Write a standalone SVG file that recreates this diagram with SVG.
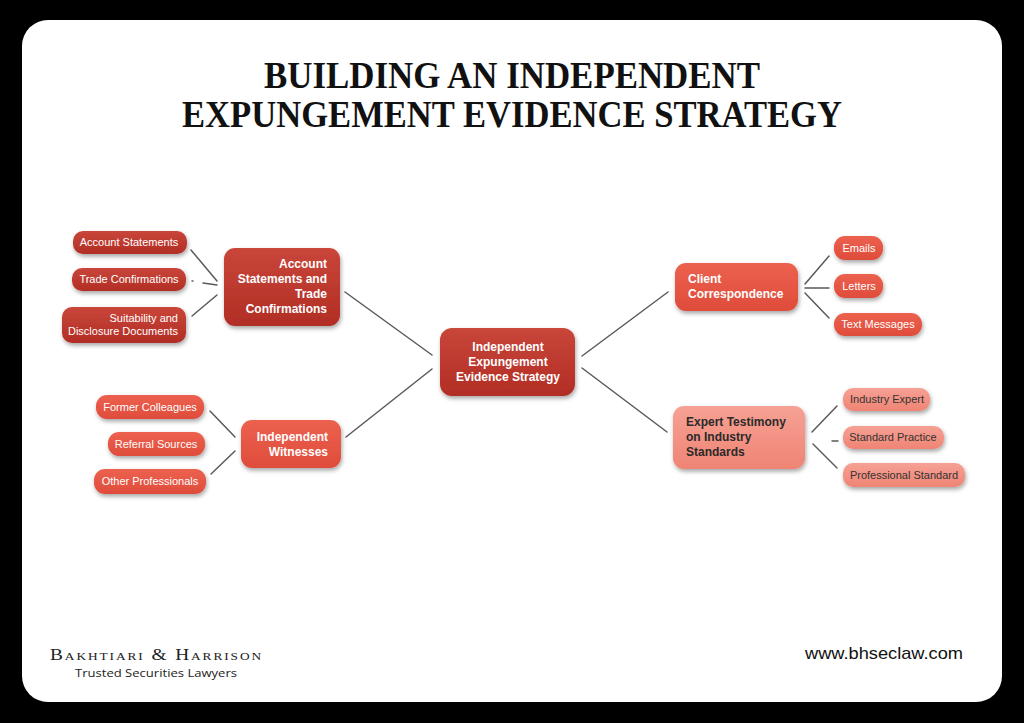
<svg xmlns="http://www.w3.org/2000/svg" width="1024" height="723" viewBox="0 0 1024 723">
<defs>
<filter id="sh" x="-20%" y="-20%" width="140%" height="160%">
<feDropShadow dx="1" dy="2.5" stdDeviation="2" flood-color="#000" flood-opacity="0.35"/>
</filter>
<linearGradient id="gDark" x1="0" y1="0" x2="0" y2="1"><stop offset="0" stop-color="#c9463a"/><stop offset="1" stop-color="#b12d24"/></linearGradient>
<linearGradient id="gMid" x1="0" y1="0" x2="0" y2="1"><stop offset="0" stop-color="#ec614f"/><stop offset="1" stop-color="#df4c3b"/></linearGradient>
<linearGradient id="gLight" x1="0" y1="0" x2="0" y2="1"><stop offset="0" stop-color="#f6a195"/><stop offset="1" stop-color="#ef8474"/></linearGradient>
</defs>
<style>
.dark{fill:url(#gDark);filter:url(#sh)}
.mid{fill:url(#gMid);filter:url(#sh)}
.light{fill:url(#gLight);filter:url(#sh)}
.t{font-family:"Liberation Sans",Arial,sans-serif;font-weight:bold;font-size:12px;fill:#fff}
.td{font-family:"Liberation Sans",Arial,sans-serif;font-weight:bold;font-size:12px;fill:#2a2a2a}
.l{font-family:"Liberation Sans",Arial,sans-serif;font-size:11px;fill:#fff}
.ld{font-family:"Liberation Sans",Arial,sans-serif;font-size:11px;fill:#333}
.c line{stroke:#5a5a5a;stroke-width:1.5;stroke-linecap:round}
</style>
<rect width="1024" height="723" fill="#000"/>
<rect x="22" y="20" width="980" height="682" rx="26" fill="#fff"/>
<g id="title" font-family="'Liberation Serif','DejaVu Serif',serif" font-weight="bold" font-size="38" fill="#111" text-anchor="middle">
<text x="512" y="88" textLength="496" lengthAdjust="spacingAndGlyphs">BUILDING AN INDEPENDENT</text>
<text x="512" y="127" textLength="660" lengthAdjust="spacingAndGlyphs">EXPUNGEMENT EVIDENCE STRATEGY</text>
</g>
<g id="connectors" class="c">
<line x1="191" y1="250" x2="217" y2="281"/>
<line x1="192" y1="281" x2="193" y2="281"/>
<line x1="203" y1="283" x2="217" y2="285"/>
<line x1="192" y1="316" x2="217" y2="295"/>
<line x1="345" y1="292" x2="432" y2="355"/>
<line x1="346" y1="437" x2="432" y2="369"/>
<line x1="582" y1="356" x2="668" y2="292"/>
<line x1="582" y1="368" x2="667" y2="432"/>
<line x1="210" y1="411" x2="235" y2="437"/>
<line x1="211" y1="474" x2="235" y2="451"/>
<line x1="805" y1="284" x2="829" y2="256"/>
<line x1="805" y1="288" x2="829" y2="288"/>
<line x1="805" y1="293" x2="829" y2="318"/>
<line x1="812" y1="432" x2="837" y2="406"/>
<line x1="832" y1="441" x2="838" y2="441" stroke="#bbb"/>
<line x1="813" y1="444" x2="837" y2="468"/>
</g>
<g id="center">
<rect class="dark" x="440" y="328" width="135" height="68" rx="12"/>
<text class="t" text-anchor="middle"><tspan x="508" y="351">Independent</tspan><tspan x="508" y="366">Expungement</tspan><tspan x="508" y="381">Evidence Strategy</tspan></text>
</g>
<g id="account-node">
<rect class="dark" x="224" y="248" width="116" height="78" rx="11"/>
<text class="t" text-anchor="end"><tspan x="327" y="268">Account</tspan><tspan x="327" y="283">Statements and</tspan><tspan x="327" y="298">Trade</tspan><tspan x="327" y="313">Confirmations</tspan></text>
</g>
<g id="witness-node">
<rect class="mid" x="241" y="420" width="100" height="48" rx="11"/>
<text class="t" text-anchor="end"><tspan x="328" y="441">Independent</tspan><tspan x="328" y="456">Witnesses</tspan></text>
</g>
<g id="client-node">
<rect class="mid" x="675" y="263" width="123" height="48" rx="11"/>
<text class="t"><tspan x="688" y="283">Client</tspan><tspan x="688" y="298">Correspondence</tspan></text>
</g>
<g id="expert-node">
<rect class="light" x="673" y="406" width="132" height="63" rx="11"/>
<text class="td"><tspan x="686" y="426">Expert Testimony</tspan><tspan x="686" y="441">on Industry</tspan><tspan x="686" y="456">Standards</tspan></text>
</g>
<g id="leaf-account-statements"><rect class="dark" x="73" y="231" width="114" height="23" rx="10"/><text class="l" x="129" y="246" text-anchor="middle">Account Statements</text></g>
<g id="leaf-trade-confirmations"><rect class="dark" x="72" y="268" width="114" height="23" rx="10"/><text class="l" x="129" y="283" text-anchor="middle">Trade Confirmations</text></g>
<g id="leaf-suitability"><rect class="dark" x="62" y="307" width="124" height="36" rx="10"/><text class="l" text-anchor="end"><tspan x="178" y="322">Suitability and</tspan><tspan x="178" y="335">Disclosure Documents</tspan></text></g>
<g id="leaf-former-colleagues"><rect class="mid" x="96" y="395" width="108" height="24" rx="11"/><text class="l" x="150" y="411" text-anchor="middle">Former Colleagues</text></g>
<g id="leaf-referral-sources"><rect class="mid" x="108" y="432" width="97" height="24" rx="11"/><text class="l" x="156" y="448" text-anchor="middle">Referral Sources</text></g>
<g id="leaf-other-professionals"><rect class="mid" x="94" y="469" width="112" height="25" rx="11"/><text class="l" x="150" y="485" text-anchor="middle">Other Professionals</text></g>
<g id="leaf-emails"><rect class="mid" x="834" y="236" width="49" height="24" rx="11"/><text class="l" x="859" y="252" text-anchor="middle">Emails</text></g>
<g id="leaf-letters"><rect class="mid" x="834" y="274" width="49" height="24" rx="11"/><text class="l" x="859" y="290" text-anchor="middle">Letters</text></g>
<g id="leaf-text-messages"><rect class="mid" x="834" y="313" width="88" height="23" rx="11"/><text class="l" x="878" y="328" text-anchor="middle">Text Messages</text></g>
<g id="leaf-industry-expert"><rect class="light" x="843" y="388" width="87" height="23" rx="10"/><text class="ld" x="887" y="403" text-anchor="middle">Industry Expert</text></g>
<g id="leaf-standard-practice"><rect class="light" x="843" y="426" width="101" height="23" rx="10"/><text class="ld" x="893" y="441" text-anchor="middle">Standard Practice</text></g>
<g id="leaf-professional-standard"><rect class="light" x="843" y="463" width="122" height="24" rx="10"/><text class="ld" x="904" y="479" text-anchor="middle">Professional Standard</text></g>
<g id="footer">
<text x="50" y="660" font-family="'Liberation Serif','DejaVu Serif',serif" font-size="16" fill="#222" letter-spacing="1.6" style="font-variant:small-caps" textLength="213" lengthAdjust="spacingAndGlyphs">Bakhtiari &amp; Harrison</text>
<text x="75" y="677" font-family="'Open Sans','Liberation Sans',sans-serif" font-size="11.5" fill="#222" textLength="162" lengthAdjust="spacingAndGlyphs">Trusted Securities Lawyers</text>
<text x="805" y="659" font-family="'Liberation Sans',Arial,sans-serif" font-size="17" fill="#111" textLength="158" lengthAdjust="spacingAndGlyphs">www.bhseclaw.com</text>
</g>
</svg>
